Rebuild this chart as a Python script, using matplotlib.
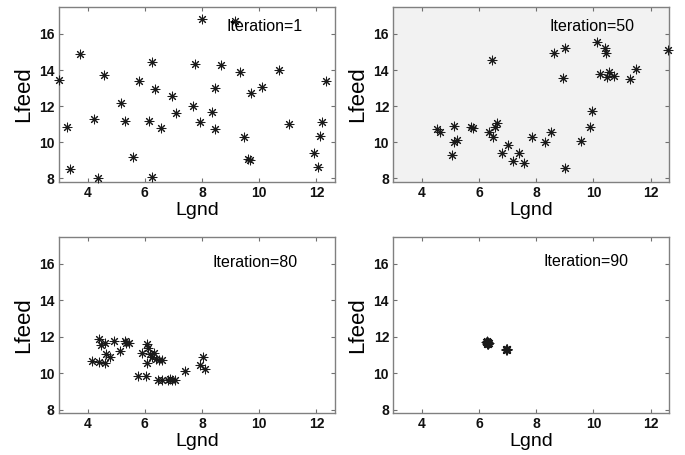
import matplotlib
matplotlib.use("Agg")
import matplotlib.pyplot as plt

plt.rcParams['font.family'] = ['Liberation Sans', 'DejaVu Sans']

# Iteration = 1
x1 = [3.0, 3.3, 3.38, 3.72, 4.23, 4.35, 4.56, 5.17, 5.31, 5.6, 5.79, 6.16, 6.24, 6.24,
      6.37, 6.58, 6.94, 7.08, 7.67, 7.76, 7.93, 8.0, 8.35, 8.46, 8.46, 8.65, 9.14, 9.32,
      9.46, 9.61, 9.69, 9.70, 10.09, 10.68, 11.03, 11.92, 12.04, 12.12, 12.21, 12.32]
y1 = [13.45, 10.86, 8.5, 14.87, 11.29, 8.0, 13.71, 12.19, 11.19, 9.2, 13.39, 11.19, 14.47, 8.09,
      12.93, 10.81, 12.54, 11.64, 11.99, 14.32, 11.14, 16.81, 11.67, 13.02, 10.71, 14.28, 16.74, 13.89,
      10.31, 9.1, 9.01, 12.75, 13.04, 14.02, 11.0, 9.38, 8.64, 10.34, 11.12, 13.39]

# Iteration = 50
x50 = [4.54, 4.62, 5.12, 5.07, 5.13, 5.24, 5.71, 5.78, 6.35, 6.46, 6.48, 6.56, 6.62, 7.01,
       6.8, 7.19, 7.39, 7.59, 7.84, 8.29, 8.51, 8.62, 8.92, 9.01, 9.0, 9.55, 9.88, 9.95,
       10.11, 10.24, 10.39, 10.45, 10.48, 10.54, 10.71, 11.27, 11.48, 12.6]
y50 = [10.73, 10.55, 10.92, 9.30, 9.99, 10.12, 10.83, 10.77, 10.59, 14.53, 10.31, 10.83, 11.05, 9.86,
       9.38, 8.97, 9.38, 8.87, 10.27, 9.99, 10.55, 14.96, 13.58, 15.2, 8.6, 10.08, 10.87, 11.72,
       15.57, 13.77, 15.2, 14.96, 13.62, 13.9, 13.69, 13.53, 14.08, 15.1]

# Iteration = 80
x80 = [4.15, 4.39, 4.41, 4.46, 4.60, 4.62, 4.65, 4.78, 4.92, 5.12, 5.30, 5.35, 5.45, 5.77,
       5.89, 6.06, 6.07, 6.11, 6.09, 6.17, 6.27, 6.33, 6.41, 6.5, 6.62, 6.48, 6.62, 6.80,
       6.88, 6.97, 7.07, 7.42, 7.94, 8.03, 8.12]
y80 = [10.67, 11.86, 10.63, 11.53, 11.64, 10.58, 11.04, 10.91, 11.77, 11.22, 11.74, 11.68, 11.64, 9.84,
       11.09, 9.84, 11.59, 11.4, 10.58, 11.04, 10.89, 11.13, 10.76, 10.72, 10.72, 9.62, 9.62, 9.62,
       9.69, 9.62, 9.62, 10.12, 10.43, 10.91, 10.21]

# Iteration = 90
x90 = [6.27, 6.29, 6.31, 6.33, 6.28, 6.30, 6.32, 6.26, 6.34, 6.30, 6.29, 6.31,
       6.95, 6.97, 6.99, 6.96, 6.98]
y90 = [11.66, 11.70, 11.62, 11.68, 11.60, 11.72, 11.64, 11.69, 11.66, 11.58, 11.74, 11.67,
       11.30, 11.28, 11.32, 11.26, 11.31]

panels = [
    (x1, y1, "Iteration=1", (8.85, 16.4), 'white'),
    (x50, y50, "Iteration=50", (8.47, 16.4), '#f2f2f2'),
    (x80, y80, "Iteration=80", (8.38, 16.1), 'white'),
    (x90, y90, "Iteration=90", (8.24, 16.15), 'white'),
]

positions = [
    [0.086, 0.600, 0.403, 0.385],
    [0.574, 0.600, 0.403, 0.385],
    [0.086, 0.092, 0.403, 0.388],
    [0.574, 0.092, 0.403, 0.388],
]

fig = plt.figure(figsize=(6.85, 4.55), dpi=100)
for (xs, ys, title, tpos, bg), pos in zip(panels, positions):
    ax = fig.add_axes(pos)
    ax.set_facecolor(bg)
    ax.scatter(xs, ys, marker=(8, 2, 0), s=40, c='#1a1a1a', linewidths=0.75,
               clip_on=False, zorder=3)
    ax.set_xlim(3, 12.65)
    ax.set_ylim(7.8, 17.5)
    ax.set_xticks([4, 6, 8, 10, 12])
    ax.set_yticks([8, 10, 12, 14, 16])
    ax.tick_params(direction='in', length=3, width=0.8, colors='#707070',
                   labelcolor='#111111', labelsize=10, top=True, right=True, pad=3)
    for lab in ax.get_xticklabels() + ax.get_yticklabels():
        lab.set_fontweight('bold')
    for sp in ax.spines.values():
        sp.set_color('#808080')
        sp.set_linewidth(1.0)
    ax.set_xlabel('Lgnd', fontsize=14, labelpad=1)
    ax.set_ylabel('Lfeed', fontsize=16, labelpad=4)
    ax.text(tpos[0], tpos[1], title, fontsize=11.5, va='center', ha='left', zorder=4)

fig.savefig('out.png', dpi=100)
